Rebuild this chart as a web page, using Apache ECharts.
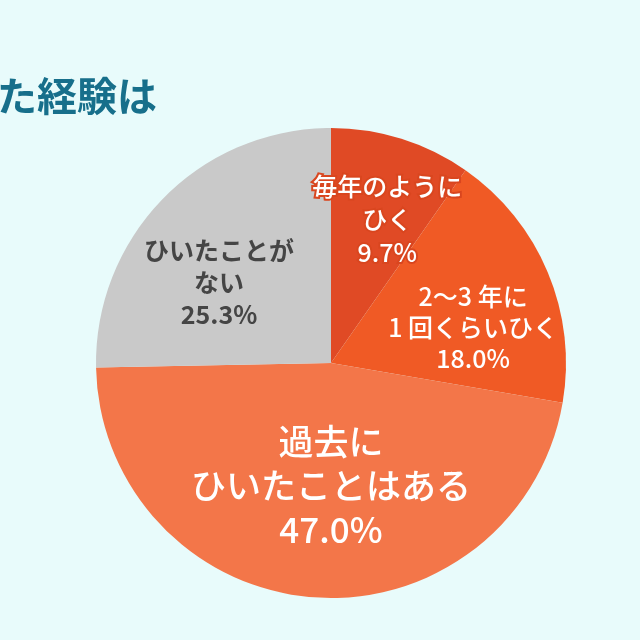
<!DOCTYPE html>
<html><head><meta charset="utf-8">
<script src="https://cdn.jsdelivr.net/npm/echarts@6/dist/echarts.min.js"></script>
<style>html,body{margin:0;padding:0;background:#e8fbfb;}#c{width:640px;height:640px;}</style>
</head><body><div id="c"></div>
<script>
const categories = ['毎年のように\nひく', '2〜3 年に\n1 回くらいひく', '過去に\nひいたことはある', 'ひいたことが\nない'];
const values = [9.7, 18.0, 47.0, 25.3];
const colors = ['#e04a25', '#f05a25', '#f37649', '#c9c9c9'];
const titleText = 'ひいた経験は';

const labelStyles = [
  {color:'#fff', fontSize:25, lineHeight:33, offset:[20,-29], textBorderColor:'#d9461f', textBorderWidth:4, fontWeight:500},
  {color:'#fff', fontSize:25, lineHeight:31, offset:[31,11], fontWeight:500},
  {color:'#fff', fontSize:35, lineHeight:44, offset:[9,3], fontWeight:500},
  {color:'#454545', fontSize:25, lineHeight:32, offset:[-26,4], fontWeight:700}
];

const chart = echarts.init(document.getElementById('c'));
chart.setOption({
  backgroundColor: '#e8fbfb',
  graphic: [{
    type: 'text', right: 483, top: 76,
    style: {text: titleText, fontSize: 40, fontWeight: 'bold', fill: '#176f8b', fontFamily: 'Noto Sans CJK JP'}
  }],
  series: [{
    type: 'pie',
    center: [331, 363],
    radius: 235,
    startAngle: 90,
    clockwise: true,
    animation: false,
    silent: true,
    label: {
      position: 'inside',
      fontFamily: 'Noto Sans CJK JP',
      formatter: p => p.name + '\n' + p.value.toFixed(1) + '%'
    },
    labelLine: {show: false},
    data: categories.map((n, i) => ({
      name: n, value: values[i],
      itemStyle: {color: colors[i]},
      label: labelStyles[i]
    }))
  }]
});
</script></body></html>
